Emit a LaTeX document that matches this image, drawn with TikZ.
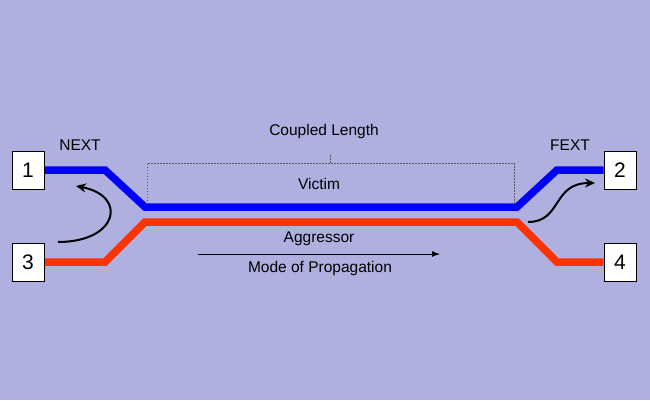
\documentclass[tikz,border=0pt]{standalone}
\usepackage{fontspec}
\setmainfont{Liberation Sans}
\usetikzlibrary{arrows.meta}
\definecolor{bg}{RGB}{176,176,224}
\definecolor{vblue}{RGB}{0,0,255}
\definecolor{ared}{RGB}{255,51,0}
\tikzset{
  port/.style={draw=black, line width=0.8pt, fill=white, minimum width=32pt, minimum height=38pt, inner sep=0pt, font=\fontsize{21}{24}\selectfont},
  lbl/.style={font=\fontsize{15.5}{18}\selectfont, inner sep=0pt},
  wire/.style={line width=7.5pt, line join=miter},
  xtalk/.style={line width=2pt, -{Stealth[length=10pt,width=9pt]}},
  bracket/.style={dash pattern=on 1.5pt off 1.5pt, line width=1pt, draw=black!65}
}
\begin{document}
\begin{tikzpicture}[x=1pt,y=-1pt]
\fill[bg] (0,0) rectangle (650,400);
\useasboundingbox (0,0) rectangle (650,400);
% wire corner coordinates
\coordinate (b1) at (105,170);
\coordinate (b2) at (145,207);
\coordinate (b3) at (517,207);
\coordinate (b4) at (557,170);
\coordinate (r1) at (105,262);
\coordinate (r2) at (145,222);
\coordinate (r3) at (517,222);
\coordinate (r4) at (557,262);
% ports
\path (28,170) node[port] (n1) {1};
\path (28,262) node[port] (n3) {3};
\path (620,170) node[port] (n2) {2};
\path (620,262) node[port] (n4) {4};
% wires
\draw[wire, vblue] (n1.east) -- (b1) -- (b2) -- (b3) -- (b4) -- (n2.west);
\draw[wire, ared] (n3.east) -- (r1) -- (r2) -- (r3) -- (r4) -- (n4.west);
% redraw ports on top
\path (28,170) node[port] {1};
\path (28,262) node[port] {3};
\path (620,170) node[port] {2};
\path (620,262) node[port] {4};
% coupled length bracket
\coordinate (cl1) at (147,204);
\coordinate (cl2) at (147,163);
\coordinate (cl3) at (514,163);
\coordinate (cl4) at (514,204);
\coordinate (clm) at (330,163);
\draw[bracket] (cl1) -- (cl2) -- (cl3) -- (cl4);
\node[lbl] (cl) at (324,131) {Coupled Length};
\coordinate (clt) at (330,155);
\draw[bracket] (clt) -- (clm);
% labels
\node[lbl] (victim) at (319,184) {Victim};
\node[lbl] (aggr) at (319,239) {Aggressor};
\node[lbl] (mode) at (320,268) {Mode of Propagation};
\node[lbl] (next) at (80,145) {NEXT};
\node[lbl] (fext) at (570,145) {FEXT};
% propagation arrow
\coordinate (pa) at (198,254);
\coordinate (pb) at (440,254);
\draw[line width=1pt, -{Latex[length=8pt,width=6pt]}] (pa) -- (pb);
% NEXT arrow
\coordinate (na) at (58,242);
\coordinate (nb) at (76,186);
\draw[xtalk] (na) .. controls (118,242) and (128,196) .. (nb);
% FEXT arrow
\coordinate (fa) at (528,222);
\coordinate (fb) at (595,183);
\draw[xtalk] (fa) .. controls (562,222) and (552,183) .. (fb);
\end{tikzpicture}
\end{document}
